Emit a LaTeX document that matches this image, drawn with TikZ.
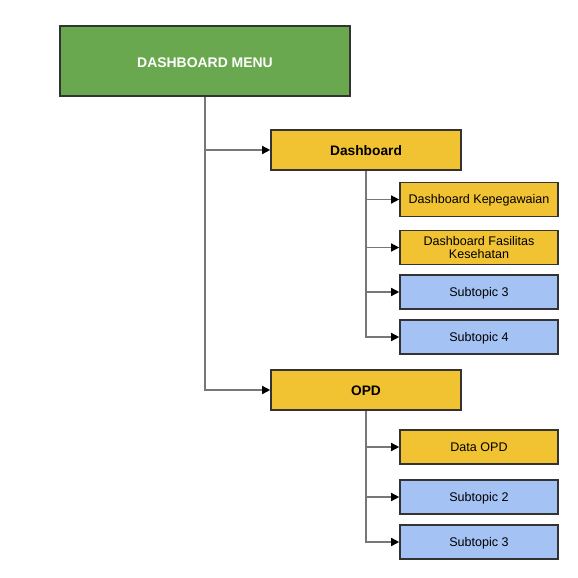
\documentclass[tikz,border=0pt]{standalone}
\usepackage{fontspec}
\setmainfont{Liberation Sans}
\usetikzlibrary{arrows.meta}
\definecolor{mgreen}{HTML}{6AA84F}
\definecolor{myellow}{HTML}{F1C232}
\definecolor{mblue}{HTML}{A4C2F4}
\definecolor{mborder}{HTML}{333333}
\definecolor{mline}{HTML}{777777}
\tikzset{
  box/.style={draw=mborder, line width=1.6bp, inner sep=0pt, align=center},
  mainbox/.style={box, fill=mgreen, text=white, font=\fontsize{14}{16}\selectfont\bfseries, minimum width=290bp, minimum height=70bp, text height=13.6bp, text depth=1bp},
  parbox/.style={box, fill=myellow, font=\fontsize{13.8}{16}\selectfont\bfseries, minimum width=190bp, minimum height=40bp, text height=12.5bp, text depth=1.1bp},
  childbase/.style={box, font=\fontsize{12.6}{13.4}\selectfont, minimum width=158bp, minimum height=34bp},
  childy/.style={childbase, fill=myellow, text height=10bp, text depth=1.5bp},
  childb/.style={childbase, fill=mblue, text height=10bp, text depth=1.5bp},
  childtwo/.style={childbase, fill=myellow},
  conn/.style={draw=mline, line width=1.4bp, -{Triangle[length=8bp,width=8bp,fill=black,color=black]}},
}
\begin{document}
\begin{tikzpicture}[x=1bp,y=-1bp]
\useasboundingbox[fill=white] (0,0) rectangle (578,578);
\node[mainbox] (main) at (205,61) {DASHBOARD MENU};
\node[parbox] (dash) at (366,150) {Dashboard};
\node[childy] (kep) at (479,199.5) {Dashboard Kepegawaian};
\node[childtwo] (fas) at (479,247.5) {Dashboard Fasilitas\\Kesehatan};
\node[childb] (s3a) at (479,292) {Subtopic 3};
\node[childb] (s4) at (479,337) {Subtopic 4};
\node[parbox] (opd) at (366,390) {OPD};
\node[childy] (dopd) at (479,447) {Data OPD};
\node[childb] (s2) at (479,497) {Subtopic 2};
\node[childb] (s3b) at (479,542) {Subtopic 3};
\draw[conn] (main.south) |- (dash.west);
\draw[conn] (main.south) |- (opd.west);
\draw[conn] (dash.south) |- (kep.west);
\draw[conn] (dash.south) |- (fas.west);
\draw[conn] (dash.south) |- (s3a.west);
\draw[conn] (dash.south) |- (s4.west);
\draw[conn] (opd.south) |- (dopd.west);
\draw[conn] (opd.south) |- (s2.west);
\draw[conn] (opd.south) |- (s3b.west);
\end{tikzpicture}
\end{document}
